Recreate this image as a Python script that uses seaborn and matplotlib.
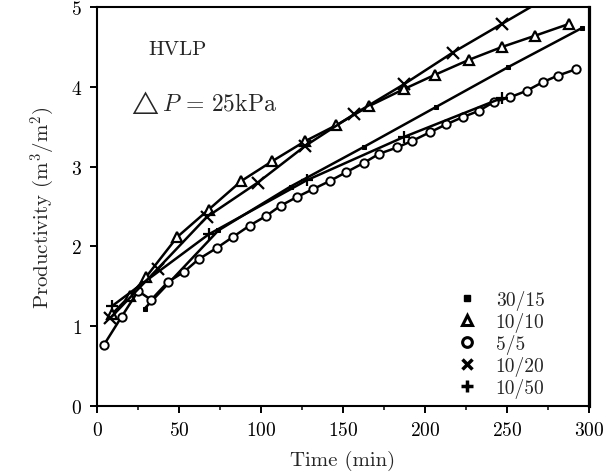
import matplotlib
matplotlib.use("Agg")
import matplotlib.pyplot as plt
from matplotlib.lines import Line2D
from matplotlib.ticker import MultipleLocator
import seaborn as sns

# series: time (min) and productivity (m3/m2)
t_30_15 = [29, 74, 118, 163, 207, 251, 296]
p_30_15 = [1.22, 2.20, 2.75, 3.25, 3.75, 4.25, 4.74]

t_10_10 = [9, 20, 30, 49, 68, 88, 107, 127, 146, 166, 187, 206, 227, 247, 267, 288]
p_10_10 = [1.15, 1.38, 1.62, 2.12, 2.46, 2.82, 3.07, 3.32, 3.52, 3.76, 3.97, 4.15,
           4.34, 4.50, 4.64, 4.79]

t_5_5 = [4, 15, 25, 33, 43, 53, 62, 73, 83, 93, 103, 112, 122, 132, 142, 152, 163,
         172, 183, 192, 203, 213, 223, 233, 242, 252, 262, 272, 281, 292]
p_5_5 = [0.76, 1.12, 1.44, 1.33, 1.55, 1.68, 1.84, 1.98, 2.12, 2.26, 2.38, 2.51,
         2.62, 2.72, 2.82, 2.93, 3.05, 3.16, 3.24, 3.32, 3.43, 3.53, 3.62, 3.70,
         3.81, 3.87, 3.95, 4.06, 4.14, 4.22]

t_10_20 = [8, 37, 67, 98, 127, 157, 187, 217, 247, 277]
p_10_20 = [1.10, 1.72, 2.37, 2.80, 3.26, 3.66, 4.03, 4.43, 4.79, 5.15]

t_10_50 = [9, 68, 128, 187, 247]
p_10_50 = [1.25, 2.15, 2.83, 3.37, 3.86]

labels = ["30/15", "10/10", "5/5", "10/20", "10/50"]

sns.set_style("ticks")
plt.rcParams["font.family"] = ["cmr10", "DejaVu Serif"]
plt.rcParams["mathtext.fontset"] = "cm"
plt.rcParams["axes.unicode_minus"] = False
plt.rcParams["axes.formatter.use_mathtext"] = True

fig = plt.figure(figsize=(6.07, 4.77), dpi=100)
ax = fig.add_axes([0.16, 0.147, 0.81, 0.836])

line_kw = dict(color="black", linewidth=1.8, estimator=None, sort=False, ax=ax)
sns.lineplot(x=t_30_15, y=p_30_15, marker="s", markersize=3.5,
             markerfacecolor="black", markeredgecolor="black", **line_kw)
sns.lineplot(x=t_10_10, y=p_10_10, marker="^", markersize=7,
             markerfacecolor="white", markeredgecolor="black", markeredgewidth=1.6, **line_kw)
sns.lineplot(x=t_5_5, y=p_5_5, marker="o", markersize=6,
             markerfacecolor="white", markeredgecolor="black", markeredgewidth=1.4, **line_kw)
sns.lineplot(x=t_10_20, y=p_10_20, marker="x", markersize=8,
             markeredgecolor="black", markeredgewidth=1.6, **line_kw)
sns.lineplot(x=t_10_50, y=p_10_50, marker="+", markersize=8,
             markeredgecolor="black", markeredgewidth=1.6, **line_kw)

ax.set_xlim(0, 300)
ax.set_ylim(0, 5)
ax.xaxis.set_major_locator(MultipleLocator(50))
ax.xaxis.set_minor_locator(MultipleLocator(25))
ax.yaxis.set_major_locator(MultipleLocator(1))
ax.tick_params(axis="both", which="major", direction="out", length=5, width=1.4,
               labelsize=14, colors="black", pad=6)
ax.tick_params(axis="x", which="minor", direction="out", length=3, width=1.3)
for side in ["left", "bottom", "top", "right"]:
    ax.spines[side].set_visible(True)
    ax.spines[side].set_color("black")
    ax.spines[side].set_linewidth(1.5)
ax.spines["right"].set_linewidth(2.3)

ax.set_xlabel("Time (min)", fontsize=15, labelpad=8)
ax.set_ylabel(r"Productivity (m$^3$/m$^2$)", fontsize=15, labelpad=10)

ax.text(31, 4.47, "HVLP", fontsize=15, va="center")
ax.text(18, 3.82, r"$\triangle P\,=\,25\mathrm{kPa}$", fontsize=17, va="center")

handles = [
    Line2D([], [], ls="none", marker="s", markersize=4, color="black"),
    Line2D([], [], ls="none", marker="^", markersize=7, markerfacecolor="white",
           markeredgecolor="black", markeredgewidth=2.2),
    Line2D([], [], ls="none", marker="o", markersize=7, markerfacecolor="white",
           markeredgecolor="black", markeredgewidth=2.2),
    Line2D([], [], ls="none", marker="x", markersize=7, markeredgecolor="black",
           markeredgewidth=2.5),
    Line2D([], [], ls="none", marker="+", markersize=8, markeredgecolor="black",
           markeredgewidth=2.5),
]
ax.legend(handles, labels, loc="upper left", bbox_to_anchor=(0.70, 0.325),
          frameon=False, fontsize=14, handlelength=1.2, handletextpad=0.9,
          labelspacing=0.1, borderpad=0.2)

fig.savefig("out.png", dpi=100)
